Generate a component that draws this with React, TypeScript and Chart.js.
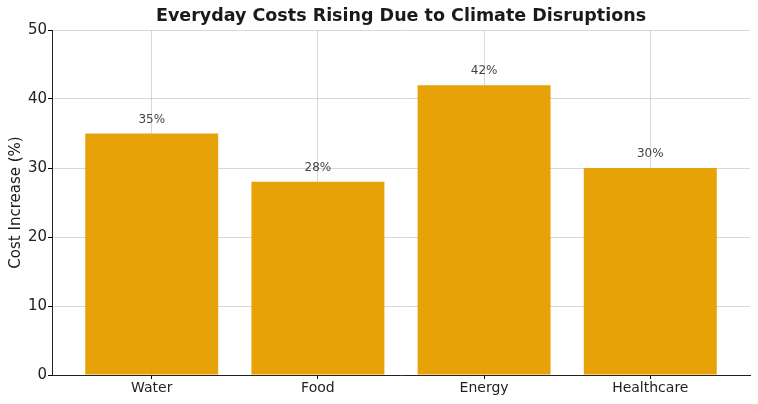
import React, { useEffect, useRef } from "react";
import { Chart, registerables } from "chart.js";

Chart.register(...registerables);

const categories = ["Water", "Food", "Energy", "Healthcare"];
const values = [35, 28, 42, 30];
const yTicks = [0, 10, 20, 30, 40, 50];
const titleText = "Everyday Costs Rising Due to Climate Disruptions";
const yTitle = "Cost Increase (%)";

const FONT = "'DejaVu Sans', sans-serif";

const overlayPlugin = {
  id: "overlay",
  afterDatasetsDraw(chart: any) {
    const ctx = chart.ctx;
    ctx.save();
    const meta = chart.getDatasetMeta(0);
    ctx.font = `12px ${FONT}`;
    ctx.fillStyle = "#444";
    ctx.textAlign = "center";
    ctx.textBaseline = "middle";
    meta.data.forEach((bar: any, i: number) => {
      ctx.fillText(values[i] + "%", bar.x, bar.y - 14);
    });
    ctx.restore();
  },
  afterDraw(chart: any) {
    const ctx = chart.ctx;
    const area = chart.chartArea;
    ctx.save();
    ctx.fillStyle = "#1a1a1a";
    ctx.font = `bold 17.5px ${FONT}`;
    ctx.textAlign = "center";
    ctx.textBaseline = "middle";
    ctx.fillText(titleText, (area.left + area.right) / 2, 16);
    ctx.font = `15px ${FONT}`;
    ctx.translate(16, (area.top + area.bottom) / 2);
    ctx.rotate(-Math.PI / 2);
    ctx.fillText(yTitle, 0, 0);
    ctx.restore();
  },
};

export default function App() {
  const ref = useRef<HTMLCanvasElement>(null);
  useEffect(() => {
    const chart = new Chart(ref.current!, {
      type: "bar",
      data: {
        datasets: [
          {
            data: values.map((v, i) => ({ x: i, y: v })),
            backgroundColor: "rgba(230,159,0,0.97)",
            borderWidth: 0,
            barPercentage: 0.8,
            categoryPercentage: 1,
          },
        ],
      },
      options: {
        animation: false,
        responsive: false,
        layout: { padding: { top: 30, right: 8, left: 0, bottom: 0 } },
        plugins: { legend: { display: false }, tooltip: { enabled: false }, title: { display: false } },
        scales: {
          x: {
            type: "linear",
            z: 1,
            min: -0.6,
            max: 3.6,
            offset: false,
            afterFit: (s: any) => { s.height = 29; },
            afterBuildTicks: (s: any) => { s.ticks = categories.map((_, i) => ({ value: i })); },
            grid: {
              offset: false,
              color: "rgba(190,190,190,0.6)",
              borderDash: [2, 2],
              tickColor: "#000",
              tickLength: 4,
              tickBorderDash: [],
            },
            border: { display: true, color: "#222", width: 1 },
            ticks: {
              color: "#222",
              font: { family: FONT, size: 14 },
              padding: 1,
              callback: (v: any) => categories[Math.round(v)] ?? "",
            },
          },
          y: {
            z: 1,
            min: 0,
            max: 50,
            afterFit: (s: any) => { s.width = 52; },
            afterBuildTicks: (s: any) => { s.ticks = yTicks.map((v) => ({ value: v })); },
            grid: {
              color: "rgba(190,190,190,0.6)",
              borderDash: [2, 2],
              tickColor: "#000",
              tickLength: 4,
              tickBorderDash: [],
            },
            border: { display: true, color: "#222", width: 1 },
            ticks: { color: "#222", font: { family: FONT, size: 15 }, padding: 1 },
          },
        },
      },
      plugins: [overlayPlugin],
    });
    return () => chart.destroy();
  }, []);
  return (
    <div style={{ position: "fixed", left: 0, top: 0, width: 758, height: 404, background: "#fff" }}>
      <canvas ref={ref} width={758} height={404} style={{ width: 758, height: 404 }} />
    </div>
  );
}
